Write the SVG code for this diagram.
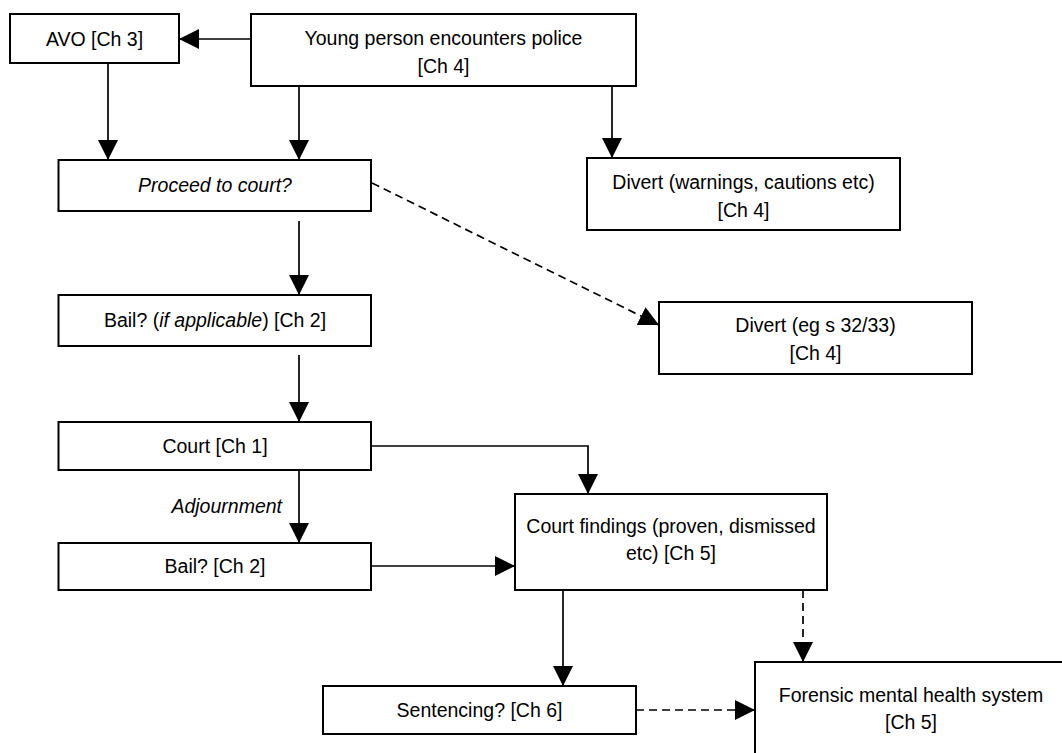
<svg xmlns="http://www.w3.org/2000/svg" width="1062" height="753" viewBox="0 0 1062 753">
<style>
  .box { fill: #ffffff; stroke: #000000; stroke-width: 2; }
  .t { font-family: "Liberation Sans", Arial, sans-serif; font-size: 19.5px; fill: #000000; text-anchor: middle; }
  .it { font-style: italic; }
  .c { fill: none; stroke: #000000; stroke-width: 1.7; }
  .d { stroke-dasharray: 8 5; }
</style>
<defs>
  <marker id="ah" markerUnits="userSpaceOnUse" markerWidth="20" markerHeight="20" refX="20" refY="10" orient="auto" viewBox="0 0 20 20">
    <path d="M0,0 L20,10 L0,20 Z" fill="#000000"/>
  </marker>
</defs>
<rect width="1062" height="753" fill="#ffffff"/>

<g id="connectors">
  <line class="c" x1="251" y1="39" x2="179" y2="39" marker-end="url(#ah)"/>
  <line class="c" x1="108" y1="64" x2="108" y2="160" marker-end="url(#ah)"/>
  <line class="c" x1="299" y1="86" x2="299" y2="160" marker-end="url(#ah)"/>
  <line class="c" x1="612" y1="86" x2="612" y2="158" marker-end="url(#ah)"/>
  <line class="c d" x1="372" y1="183" x2="659" y2="325" marker-end="url(#ah)"/>
  <line class="c" x1="299" y1="221" x2="299" y2="295" marker-end="url(#ah)"/>
  <line class="c" x1="299" y1="355" x2="299" y2="422" marker-end="url(#ah)"/>
  <polyline class="c" points="371,446 588,446 588,494" marker-end="url(#ah)"/>
  <line class="c" x1="299" y1="470" x2="299" y2="543" marker-end="url(#ah)"/>
  <line class="c" x1="371" y1="566" x2="515" y2="566" marker-end="url(#ah)"/>
  <line class="c" x1="563" y1="590" x2="563" y2="686" marker-end="url(#ah)"/>
  <line class="c d" x1="803" y1="590" x2="803" y2="662" marker-end="url(#ah)"/>
  <line class="c d" x1="636" y1="710" x2="755" y2="710" marker-end="url(#ah)"/>
  <text class="t it" x="282" y="513" text-anchor="end" style="text-anchor:end">Adjournment</text>
</g>

<g id="avo">
  <rect class="box" x="10" y="14" width="169" height="49"/>
  <text class="t" x="94.5" y="46">AVO [Ch 3]</text>
</g>

<g id="young-person">
  <rect class="box" x="251" y="14" width="385" height="72"/>
  <text class="t" x="443.5" y="45">Young person encounters police</text>
  <text class="t" x="443.5" y="73">[Ch 4]</text>
</g>

<g id="divert-warnings">
  <rect class="box" x="587" y="158" width="313" height="72"/>
  <text class="t" x="743.5" y="189">Divert (warnings, cautions etc)</text>
  <text class="t" x="743.5" y="217">[Ch 4]</text>
</g>

<g id="proceed">
  <rect class="box" x="58.5" y="160" width="312.5" height="51"/>
  <text class="t it" x="215" y="192">Proceed to court?</text>
</g>

<g id="divert-s32">
  <rect class="box" x="659" y="302" width="313" height="72"/>
  <text class="t" x="815.5" y="332">Divert (eg s 32/33)</text>
  <text class="t" x="815.5" y="360">[Ch 4]</text>
</g>

<g id="bail-applicable">
  <rect class="box" x="58.5" y="295" width="312.5" height="51"/>
  <text class="t" x="215" y="327">Bail? (<tspan class="it">if applicable</tspan>) [Ch 2]</text>
</g>

<g id="court">
  <rect class="box" x="58.5" y="422" width="312.5" height="48"/>
  <text class="t" x="215" y="453">Court [Ch 1]</text>
</g>

<g id="bail">
  <rect class="box" x="58.5" y="543" width="312.5" height="47"/>
  <text class="t" x="215" y="573">Bail? [Ch 2]</text>
</g>

<g id="court-findings">
  <rect class="box" x="515" y="494" width="312" height="96"/>
  <text class="t" x="671" y="533">Court findings (proven, dismissed</text>
  <text class="t" x="671" y="560">etc) [Ch 5]</text>
</g>

<g id="sentencing">
  <rect class="box" x="323" y="686" width="313" height="48"/>
  <text class="t" x="479.5" y="717">Sentencing? [Ch 6]</text>
</g>

<g id="forensic">
  <rect class="box" x="755" y="662" width="312" height="120"/>
  <text class="t" x="911" y="702">Forensic mental health system</text>
  <text class="t" x="911" y="729">[Ch 5]</text>
</g>
</svg>
